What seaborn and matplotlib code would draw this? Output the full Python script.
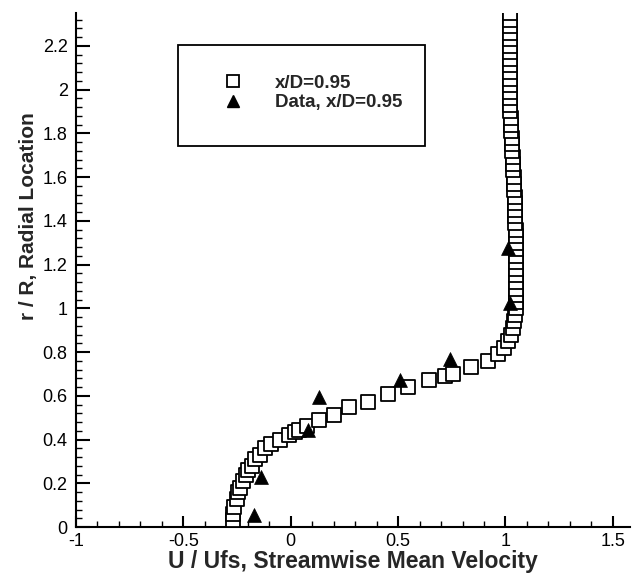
import numpy as np
import pandas as pd
import matplotlib
matplotlib.use("Agg")
import matplotlib.pyplot as plt
from matplotlib.ticker import MultipleLocator, FuncFormatter
from matplotlib.patches import Rectangle
from matplotlib.lines import Line2D
import seaborn as sns

# CFD profile, x/D = 0.95
u_cfd = [-0.27, -0.27, -0.265, -0.25, -0.245, -0.235, -0.22, -0.21, -0.20, -0.18,
         -0.165, -0.145, -0.12, -0.09, -0.05, -0.01, 0.02, 0.04, 0.075, 0.13,
         0.20, 0.27, 0.36, 0.455, 0.545, 0.645, 0.72, 0.755, 0.84, 0.92,
         0.965, 0.995, 1.01,
         1.025, 1.035, 1.04, 1.045, 1.05, 1.05, 1.05, 1.05, 1.05, 1.05,
         1.05, 1.05, 1.05, 1.05, 1.05, 1.05, 1.048, 1.046, 1.045, 1.045,
         1.044, 1.043, 1.042, 1.04, 1.038, 1.036, 1.035, 1.034, 1.032, 1.03,
         1.03, 1.028, 1.026, 1.025, 1.022, 1.02, 1.02, 1.02, 1.02, 1.02,
         1.02, 1.02, 1.02, 1.02, 1.02, 1.02, 1.02, 1.02, 1.02, 1.02]
r_cfd = [0.03, 0.06, 0.09, 0.13, 0.16, 0.18, 0.21, 0.24, 0.26, 0.28,
         0.31, 0.33, 0.36, 0.38, 0.40, 0.42, 0.435, 0.445, 0.46, 0.49,
         0.51, 0.55, 0.57, 0.61, 0.64, 0.67, 0.69, 0.70, 0.73, 0.76,
         0.79, 0.82, 0.85,
         0.88, 0.91, 0.94, 0.97, 1.00, 1.03, 1.06, 1.09, 1.12, 1.15,
         1.18, 1.21, 1.24, 1.27, 1.30, 1.33, 1.36, 1.39, 1.42, 1.45,
         1.48, 1.51, 1.54, 1.57, 1.60, 1.63, 1.66, 1.69, 1.72, 1.75,
         1.78, 1.81, 1.84, 1.87, 1.90, 1.93, 1.96, 1.99, 2.02, 2.05,
         2.08, 2.11, 2.14, 2.17, 2.20, 2.23, 2.26, 2.29, 2.32, 2.35]

# Experimental data, x/D = 0.95
u_data = [-0.17, -0.14, 0.08, 0.13, 0.51, 0.74, 1.02, 1.01]
r_data = [0.055, 0.23, 0.445, 0.595, 0.67, 0.77, 1.025, 1.276]

legend_labels = ["x/D=0.95", "Data, x/D=0.95"]
x_label = "U / Ufs, Streamwise Mean Velocity"
y_label = "r / R, Radial Location"

sns.set_style("ticks")
plt.rcParams["font.family"] = ["Liberation Sans", "DejaVu Sans"]
plt.rcParams["axes.unicode_minus"] = False

fig = plt.figure(figsize=(6.33, 5.77), dpi=100)
ax = fig.add_axes([76/633, 1-527/577, (630-76)/633, (527-13)/577])

df_cfd = pd.DataFrame({"u": u_cfd, "r": r_cfd})
df_dat = pd.DataFrame({"u": u_data, "r": r_data})

sns.scatterplot(data=df_cfd, x="u", y="r", marker="s", s=115,
                facecolor="white", edgecolor="black", linewidth=1.3, ax=ax, zorder=3)
sns.scatterplot(data=df_dat, x="u", y="r", marker="^", s=100,
                color="black", edgecolor="black", linewidth=0.5, ax=ax, zorder=4)

ax.set_xlim(-1, 1.58)
ax.set_ylim(0, 2.35)
ax.xaxis.set_major_locator(MultipleLocator(0.5))
ax.xaxis.set_minor_locator(MultipleLocator(0.1))
ax.yaxis.set_major_locator(MultipleLocator(0.2))
ax.yaxis.set_minor_locator(MultipleLocator(0.04))
fmt = FuncFormatter(lambda v, p: f"{round(v, 2):g}")
ax.xaxis.set_major_formatter(fmt)
ax.yaxis.set_major_formatter(fmt)

for s in ["top", "right"]:
    ax.spines[s].set_visible(False)
for s in ["left", "bottom"]:
    ax.spines[s].set_linewidth(1.5)
    ax.spines[s].set_color("black")

ax.tick_params(axis="both", which="major", direction="in", length=8, width=1.5,
               labelsize=13, colors="black")
ax.tick_params(axis="both", which="minor", direction="in", length=4, width=1.0,
               colors="black")
ax.tick_params(axis="y", which="major", length=10, pad=6)
ax.tick_params(axis="x", which="major", pad=4)

ax.set_xlabel(x_label, fontsize=16.5, fontweight="bold", labelpad=0)
ax.set_ylabel(y_label, fontsize=15, fontweight="bold")
ax.yaxis.set_label_coords(-0.068, (527-216)/514)

# legend box
box = Rectangle(((178-76)/554, (527-146)/514), (425-178)/554, (146-45)/514,
                transform=ax.transAxes, facecolor="white", edgecolor="black",
                linewidth=1.3, zorder=5)
ax.add_patch(box)
handles = [
    Line2D([], [], marker="s", linestyle="none", markersize=9,
           markerfacecolor="white", markeredgecolor="black", markeredgewidth=1.3),
    Line2D([], [], marker="^", linestyle="none", markersize=9,
           markerfacecolor="black", markeredgecolor="black"),
]
leg = ax.legend(handles, legend_labels, frameon=False, loc="center left",
                bbox_to_anchor=((214-76)/554, (527-93)/514), borderpad=0,
                handlelength=1.0, handletextpad=1.75, labelspacing=0.12,
                prop={"weight": "bold", "size": 13.5})
leg.set_zorder(6)

fig.savefig("out.png", dpi=100)
